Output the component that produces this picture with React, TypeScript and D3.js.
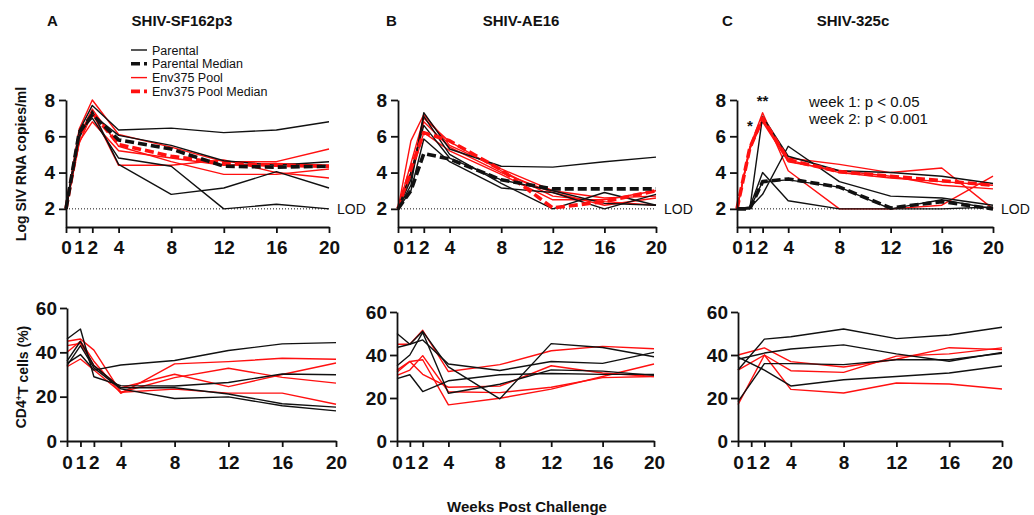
import * as d3 from "d3";
import { useEffect, useRef } from "react";

const width = 1034;
const height = 515;
const font = "'Liberation Sans', Arial, Helvetica, sans-serif";
const red = "#ff1010";
const black = "#111111";

// x values
const weeks = [0, 1, 2, 4, 8, 12, 16, 20];
const weeksNoWeek1 = [0, 2, 4, 8, 12, 16, 20];
const xTicks = [0, 1, 2, 4, 8, 12, 16, 20];
const vlTicks = [2, 4, 6, 8];
const cd4Ticks = [0, 20, 40, 60];

// Log SIV RNA copies/ml, SHIV-SF162p3
const sf162Parental = [
  [2, 6.3, 7.7, 6.35, 6.45, 6.2, 6.35, 6.8],
  [2, 6.0, 7.2, 6.05, 5.5, 4.65, 4.4, 4.6],
  [2, 6.2, 7.0, 4.8, 4.35, 2.0, 2.25, 2.0],
  [2, 5.9, 7.4, 4.45, 2.8, 3.15, 4.05, 3.15],
];
const sf162ParentalMedian = [2, 6.2, 7.2, 5.8, 5.3, 4.35, 4.3, 4.35];
const sf162Env = [
  [2, 6.4, 8.0, 6.1, 5.4, 4.6, 4.6, 5.3],
  [2, 5.7, 6.8, 5.2, 4.8, 4.4, 4.5, 4.4],
  [2, 5.6, 7.3, 4.4, 4.4, 4.7, 4.0, 3.7],
  [2, 6.0, 7.5, 5.45, 4.6, 3.9, 3.9, 4.2],
];
const sf162EnvMedian = [2, 6.0, 7.3, 5.55, 4.9, 4.5, 4.4, 4.35];

// Log SIV RNA copies/ml, SHIV-AE16
const ae16Parental = [
  [2, 3.3, 7.3, 5.3, 4.35, 4.3, 4.6, 4.85],
  [2, 3.6, 7.1, 5.0, 3.4, 2.0, 2.9, 2.2],
  [2, 3.0, 5.85, 4.6, 3.15, 2.9, 2.0, 2.8],
  [2, 4.0, 6.6, 4.8, 3.6, 3.0, 2.3, 2.2],
];
const ae16ParentalMedian = [2, 3.0, 5.05, 4.75, 3.6, 3.1, 3.1, 3.1];
const ae16Env = [
  [2, 5.75, 7.2, 5.5, 4.2, 3.0, 2.6, 2.7],
  [2, 4.5, 7.0, 5.7, 4.1, 2.7, 2.4, 2.2],
  [2, 4.0, 6.8, 5.4, 4.0, 2.9, 2.2, 2.6],
  [2, 3.8, 6.2, 5.2, 3.9, 2.5, 2.5, 3.0],
];
const ae16EnvMedian = [2, 4.2, 6.2, 5.75, 4.15, 2.05, 2.4, 3.0];

// Log SIV RNA copies/ml, SHIV-325c
const c325Parental = [
  [2, 2.0, 7.1, 4.9, 4.1, 4.0, 3.8, 3.4],
  [2, 2.05, 2.8, 5.45, 3.5, 2.7, 2.6, 2.2],
  [2, 2.1, 4.0, 2.45, 2.0, 2.0, 2.0, 2.1],
  [2, 2.0, 3.5, 3.6, 3.2, 2.0, 2.5, 2.0],
];
const c325ParentalMedian = [2, 2.0, 3.5, 3.65, 3.2, 2.05, 2.4, 2.0];
const c325Env = [
  [2, 5.4, 7.3, 4.1, 2.0, 2.0, 2.2, 3.8],
  [2, 5.3, 7.0, 4.8, 4.45, 4.0, 4.25, 2.0],
  [2, 5.3, 6.8, 4.6, 4.1, 3.8, 3.3, 3.1],
  [2, 5.4, 6.9, 4.7, 4.0, 3.7, 3.5, 3.3],
];
const c325EnvMedian = [2, 5.35, 7.0, 4.7, 4.05, 3.8, 3.55, 3.3];

// CD4+ T cells (%)
const sf162Cd4Parental = [
  [35, 39, 32, 34.3, 36.3, 40.8, 43.8, 44.4],
  [46, 50.5, 29, 25, 24.8, 26.4, 30.2, 29.9],
  [34, 43, 33, 23.5, 19.2, 19.9, 15.9, 13.6],
  [36, 45, 34, 24, 24, 21.2, 16.8, 15.3],
];
const sf162Cd4Env = [
  [45, 46, 41, 22, 23.4, 21.6, 21.6, 16.6],
  [40, 45, 36, 21.5, 34.8, 35.8, 37.3, 36.9],
  [33.5, 37, 32, 22, 28.6, 32.8, 28.7, 26.1],
  [43, 44, 34, 24, 30.1, 24.5, 30, 35.2],
];
const ae16Cd4Parental = [
  [50, 45, 47, 35.8, 32.8, 37, 36.1, 41.2],
  [43.5, 45, 51, 34.5, 19.6, 45.3, 43.5, 39.2],
  [35, 40, 50.5, 22.2, 26.4, 33.1, 32.5, 30.5],
  [29, 30.8, 23, 28, 30.8, 31.4, 31, 31],
];
const ae16Cd4Env = [
  [45, 45, 51.5, 32.3, 35.5, 42, 44, 42.9],
  [32, 37, 31, 25, 25.5, 35, 31.6, 30],
  [30.5, 33, 39.7, 22.9, 22.5, 25, 29.5, 30],
  [33, 37, 37.8, 16.8, 19.9, 24.1, 30, 35.8],
];
const c325Cd4Parental = [
  [33, 47.4, 48.5, 52.1, 47.6, 49.3, 52.9],
  [38, 40.9, 42.8, 44.7, 40.5, 37.1, 41.2],
  [18.3, 36, 36, 35.5, 37.8, 37.8, 40.8],
  [39, 33, 25.6, 28.5, 30, 31.6, 34.9],
];
const c325Cd4Env = [
  [40, 43.3, 36.9, 34.4, 38, 43.4, 42.5],
  [33, 40, 32.7, 31.9, 39.5, 40.5, 43.3],
  [16.9, 40, 24, 22.3, 27, 26.5, 24.2],
];

const legendItems = [
  { label: "Parental", color: black, dashed: false },
  { label: "Parental Median", color: black, dashed: true },
  { label: "Env375 Pool", color: red, dashed: false },
  { label: "Env375 Pool Median", color: red, dashed: true },
];

const topPanels = [
  {
    letter: "A", title: "SHIV-SF162p3", letterX: 47, titleX: 182, x0: 66, x1: 329,
    parental: sf162Parental, parentalMedian: sf162ParentalMedian, env: sf162Env, envMedian: sf162EnvMedian,
  },
  {
    letter: "B", title: "SHIV-AE16", letterX: 386, titleX: 521, x0: 398, x1: 656,
    parental: ae16Parental, parentalMedian: ae16ParentalMedian, env: ae16Env, envMedian: ae16EnvMedian,
  },
  {
    letter: "C", title: "SHIV-325c", letterX: 722, titleX: 853, x0: 737, x1: 993,
    parental: c325Parental, parentalMedian: c325ParentalMedian, env: c325Env, envMedian: c325EnvMedian,
  },
];

const bottomPanels = [
  { x0: 67, x1: 336, yTop: 308, weeks: weeks, parental: sf162Cd4Parental, env: sf162Cd4Env },
  { x0: 397, x1: 654, yTop: 312, weeks: weeks, parental: ae16Cd4Parental, env: ae16Cd4Env },
  { x0: 738, x1: 1002, yTop: 312, weeks: weeksNoWeek1, parental: c325Cd4Parental, env: c325Cd4Env },
];

export default function App() {
  const svgRef = useRef<SVGSVGElement>(null);

  useEffect(() => {
    if (!svgRef.current) return;
    drawFigure(svgRef.current);
  }, []);

  return (
    <svg
      ref={svgRef}
      width={width}
      height={height}
      style={{ position: "absolute", left: 0, top: 0, background: "#fff" }}
    />
  );
}

function styleAxis(group: any, fontSize: number) {
  group.selectAll("path").attr("stroke", black).attr("stroke-width", 1.8);
  group.selectAll("line").attr("stroke", black).attr("stroke-width", 1.8);
  group
    .selectAll("text")
    .attr("fill", black)
    .style("font-family", font)
    .style("font-size", `${fontSize}px`)
    .style("font-weight", "700");
}

function drawLines(g: any, xs: number[], data: number[][], x: any, y: any, color: string, dashed: boolean) {
  const line = d3
    .line<number>()
    .x((_, i) => x(xs[i]))
    .y((d) => y(d));
  g.append("g")
    .selectAll("path")
    .data(data)
    .join("path")
    .attr("d", (d: number[]) => line(d))
    .attr("fill", "none")
    .attr("stroke", color)
    .attr("stroke-width", dashed ? 3.6 : 1.4)
    .attr("stroke-dasharray", dashed ? "9,4" : null)
    .attr("stroke-linejoin", "round");
}

function drawFigure(svgElement: SVGSVGElement) {
  const svg = d3.select(svgElement);
  svg.selectAll("*").remove();
  const intFormat = d3.format("d");

  topPanels.forEach((panel) => {
    const x = d3.scaleLinear().domain([0, 20]).range([panel.x0, panel.x1]);
    const y = d3.scaleLinear().domain([1, 8]).range([227, 100]);
    const g = svg.append("g");

    g.append("text")
      .attr("x", panel.letterX)
      .attr("y", 26)
      .attr("fill", black)
      .style("font-family", font)
      .style("font-size", "15px")
      .style("font-weight", "700")
      .text(panel.letter);

    g.append("text")
      .attr("x", panel.titleX)
      .attr("y", 26)
      .attr("text-anchor", "middle")
      .attr("fill", black)
      .style("font-family", font)
      .style("font-size", "15px")
      .style("font-weight", "700")
      .text(panel.title);

    // limit of detection
    g.append("line")
      .attr("x1", x(0))
      .attr("x2", x(20))
      .attr("y1", y(2))
      .attr("y2", y(2))
      .attr("stroke", black)
      .attr("stroke-width", 1)
      .attr("stroke-dasharray", "1,2");

    g.append("text")
      .attr("x", x(20) + 8)
      .attr("y", y(2))
      .attr("dy", "0.36em")
      .attr("fill", black)
      .style("font-family", font)
      .style("font-size", "14px")
      .text("LOD");

    drawLines(g, weeks, panel.env, x, y, red, false);
    drawLines(g, weeks, panel.parental, x, y, black, false);
    drawLines(g, weeks, [panel.envMedian], x, y, red, true);
    drawLines(g, weeks, [panel.parentalMedian], x, y, black, true);

    const xAxis = g
      .append("g")
      .attr("transform", `translate(0, ${y(1)})`)
      .call(
        d3.axisBottom(x).tickValues(xTicks).tickFormat(intFormat).tickSize(6).tickPadding(8).tickSizeOuter(0)
      );
    styleAxis(xAxis, 19);

    const yAxis = g
      .append("g")
      .attr("transform", `translate(${panel.x0}, 0)`)
      .call(
        d3.axisLeft(y).tickValues(vlTicks).tickFormat(intFormat).tickSize(7).tickPadding(4).tickSizeOuter(0)
      );
    styleAxis(yAxis, 19);

    if (panel.letter === "C") {
      g.append("text")
        .attr("x", x(1))
        .attr("y", y(6.3))
        .attr("text-anchor", "middle")
        .attr("fill", black)
        .style("font-family", font)
        .style("font-size", "15px")
        .style("font-weight", "700")
        .text("*");
      g.append("text")
        .attr("x", x(2))
        .attr("y", y(7.65))
        .attr("text-anchor", "middle")
        .attr("fill", black)
        .style("font-family", font)
        .style("font-size", "15px")
        .style("font-weight", "700")
        .text("**");
      ["week 1: p < 0.05", "week 2: p < 0.001"].forEach((label, i) => {
        g.append("text")
          .attr("x", 809)
          .attr("y", 107 + i * 17)
          .attr("fill", black)
          .style("font-family", font)
          .style("font-size", "15px")
          .text(label);
      });
    }
  });

  // legend in panel A
  const legend = svg.append("g").attr("transform", "translate(131, 50)");
  const rows = legend
    .selectAll("g")
    .data(legendItems)
    .join("g")
    .attr("transform", (_: any, i: number) => `translate(0, ${i * 13.8})`);
  rows
    .append("line")
    .attr("x1", 0)
    .attr("x2", 16)
    .attr("stroke", (d: any) => d.color)
    .attr("stroke-width", (d: any) => (d.dashed ? 3.6 : 1.4))
    .attr("stroke-dasharray", (d: any) => (d.dashed ? "9,4" : null));
  rows
    .append("text")
    .attr("x", 21)
    .attr("dy", "0.36em")
    .attr("fill", black)
    .style("font-family", font)
    .style("font-size", "12.5px")
    .text((d: any) => d.label);

  bottomPanels.forEach((panel) => {
    const x = d3.scaleLinear().domain([0, 20]).range([panel.x0, panel.x1]);
    const y = d3.scaleLinear().domain([0, 60]).range([441, panel.yTop]);
    const g = svg.append("g");

    drawLines(g, panel.weeks, panel.env, x, y, red, false);
    drawLines(g, panel.weeks, panel.parental, x, y, black, false);

    const xAxis = g
      .append("g")
      .attr("transform", `translate(0, ${y(0)})`)
      .call(
        d3.axisBottom(x).tickValues(xTicks).tickFormat(intFormat).tickSize(6).tickPadding(9).tickSizeOuter(0)
      );
    styleAxis(xAxis, 19);

    const yAxis = g
      .append("g")
      .attr("transform", `translate(${panel.x0}, 0)`)
      .call(
        d3.axisLeft(y).tickValues(cd4Ticks).tickFormat(intFormat).tickSize(7).tickPadding(3).tickSizeOuter(0)
      );
    styleAxis(yAxis, 19);
  });

  svg
    .append("text")
    .attr("transform", "translate(21, 164) rotate(-90)")
    .attr("text-anchor", "middle")
    .attr("dy", "0.36em")
    .attr("fill", black)
    .style("font-family", font)
    .style("font-size", "14px")
    .style("font-weight", "700")
    .text("Log SIV RNA copies/ml");

  const cd4Label = svg
    .append("text")
    .attr("transform", "translate(21, 377) rotate(-90)")
    .attr("text-anchor", "middle")
    .attr("dy", "0.36em")
    .attr("fill", black)
    .style("font-family", font)
    .style("font-size", "14px")
    .style("font-weight", "700");
  cd4Label.append("tspan").text("CD4");
  cd4Label.append("tspan").attr("dy", "-0.45em").style("font-size", "9px").text("+");
  cd4Label.append("tspan").attr("dy", "0.45em").text("T cells (%)");

  svg
    .append("text")
    .attr("x", 527)
    .attr("y", 512)
    .attr("text-anchor", "middle")
    .attr("fill", black)
    .style("font-family", font)
    .style("font-size", "15px")
    .style("font-weight", "700")
    .text("Weeks Post Challenge");
}
